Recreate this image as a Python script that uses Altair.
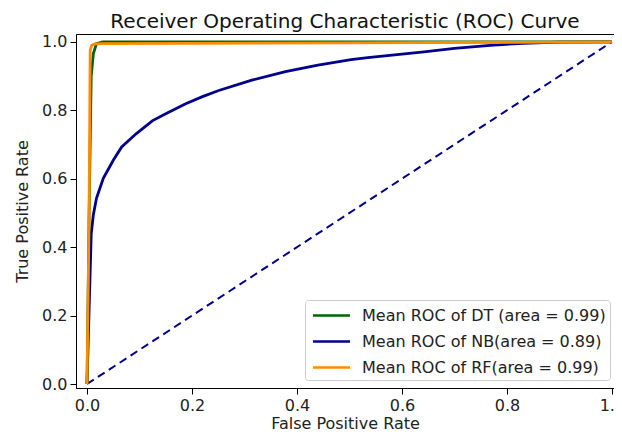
import altair as alt
import pandas as pd

# ---- data ----
labels = ["Mean ROC of DT (area = 0.99)",
          "Mean ROC of NB(area = 0.89)",
          "Mean ROC of RF(area = 0.99)"]
colors = ["#006400", "#00008B", "#FF8C00"]

dt_fpr = [0.0, 0.004, 0.008, 0.012, 0.018, 0.03, 1.0]
dt_tpr = [0.0, 0.5, 0.9, 0.965, 0.995, 1.0, 1.0]

nb_fpr = [0.0, 0.004, 0.008, 0.012, 0.018, 0.031, 0.05, 0.066, 0.094, 0.125,
          0.15, 0.188, 0.22, 0.251, 0.314, 0.378, 0.44, 0.503, 0.535, 0.6,
          0.642, 0.7, 0.768, 0.831, 0.9, 1.0]
nb_tpr = [0.0, 0.22, 0.44, 0.494, 0.543, 0.601, 0.654, 0.693, 0.732, 0.770,
          0.79, 0.819, 0.84, 0.858, 0.888, 0.913, 0.932, 0.948, 0.954, 0.964,
          0.971, 0.981, 0.990, 0.996, 0.999, 1.0]

rf_fpr = [0.0, 0.004, 0.006, 0.009, 0.015, 0.03, 0.5, 1.0]
rf_tpr = [0.0, 0.5, 0.975, 0.99, 0.994, 0.995, 0.997, 1.0]

diag_x = [0.0, 1.0]
diag_y = [0.0, 1.0]

x_ticks = [0.0, 0.2, 0.4, 0.6, 0.8, 1.0]
y_ticks = [0.0, 0.2, 0.4, 0.6, 0.8, 1.0]

FONT = "DejaVu Sans"
TXT = "#222222"


def frame(fpr, tpr, name):
    return pd.DataFrame({"fpr": fpr, "tpr": tpr, "model": name,
                         "i": list(range(len(fpr)))})


dt_df = frame(dt_fpr, dt_tpr, labels[0])
nb_df = frame(nb_fpr, nb_tpr, labels[1])
rf_df = frame(rf_fpr, rf_tpr, labels[2])
diag_df = pd.DataFrame({"fpr": diag_x, "tpr": diag_y})

xscale = alt.Scale(domain=[-0.021, 1.004], nice=False, zero=False)
yscale = alt.Scale(domain=[-0.0116, 1.023], nice=False, zero=False)

xenc = alt.X("fpr:Q", scale=xscale, title="False Positive Rate",
             axis=alt.Axis(values=x_ticks, format=".1f"))
yenc = alt.Y("tpr:Q", scale=yscale, title="True Positive Rate",
             axis=alt.Axis(values=y_ticks, format=".1f"))

color = alt.Color(
    "model:N",
    scale=alt.Scale(domain=labels, range=colors),
    legend=alt.Legend(
        title=None,
        orient="none",
        legendX=229,
        legendY=266,
        symbolType="M-1.85,0H1.85",
        symbolSize=400,
        symbolStrokeWidth=2.5,
        symbolOffset=11,
        labelOffset=19,
        labelFontSize=16,
        labelFont=FONT,
        labelColor=TXT,
        labelLimit=0,
        rowPadding=6,
        padding=4,
        fillColor="white",
        strokeColor="#cccccc",
        cornerRadius=3,
    ),
)

diag = alt.Chart(diag_df).mark_line(
    color="#00008B", strokeWidth=2, strokeDash=[8, 5]
).encode(x=xenc, y=yenc)


def curve(df):
    return alt.Chart(df).mark_line(strokeWidth=2.8).encode(
        x=xenc, y=yenc, color=color, order="i:Q"
    )


chart = alt.layer(diag, curve(nb_df), curve(dt_df), curve(rf_df)).properties(
    width=538,
    height=354,
    autosize=alt.AutoSizeParams(type="none"),
    padding={"left": 68, "top": 26, "right": 0, "bottom": 46},
    title=alt.TitleParams(
        "Receiver Operating Characteristic (ROC) Curve",
        font=FONT, fontSize=20, fontWeight="normal", color="#111111",
        anchor="middle", baseline="alphabetic", offset=8, dy=22,
    ),
).configure_view(
    stroke="black", strokeWidth=1
).configure_axis(
    grid=False,
    domainColor="black",
    tickColor="black",
    tickSize=6,
    labelFont=FONT,
    labelFontSize=16,
    labelColor=TXT,
    labelPadding=3,
    titleFont=FONT,
    titleFontSize=16,
    titleFontWeight="normal",
    titleColor=TXT,
    labelFlush=False,
).configure_axisX(
    titlePadding=2,
).configure_axisY(
    titlePadding=11,
)

chart.save("out.html", embed_options={"renderer": "svg", "actions": False})
